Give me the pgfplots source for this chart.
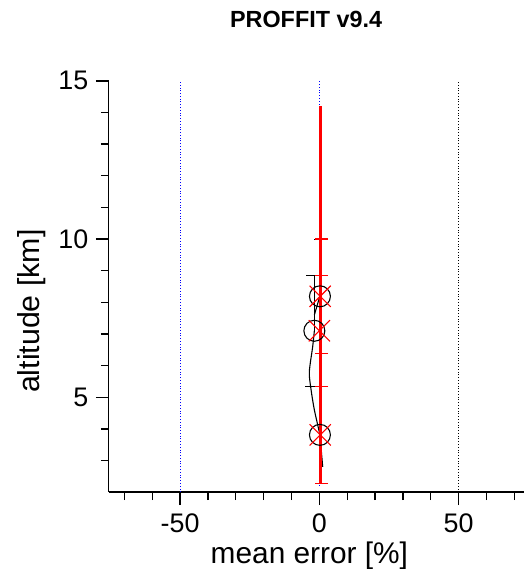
\documentclass[border=0pt]{standalone}
\usepackage{fontspec}
\setmainfont{Liberation Sans}
\usepackage{pgfplots}
\pgfplotsset{compat=1.18}
\begin{document}
\begin{tikzpicture}
\begin{axis}[
  scale only axis, width=416bp, height=412bp,
  xmin=-75.6, xmax=73.5, ymin=2, ymax=15,
  axis x line*=bottom, axis y line*=left,
  axis line style={line width=1.3pt, -},
  xtick={-50,0,50}, minor xtick={-70,-60,-40,-30,-20,-10,10,20,30,40,60,70},
  ytick={5,10,15}, minor ytick={3,4,6,7,8,9,11,12,13,14},
  tick align=outside, major tick length=13bp, minor tick length=8bp,
  every tick/.style={black, line width=1.3pt},
  every minor tick/.style={black, line width=1.3pt},
  /pgf/number format/assume math mode=true,
  ticklabel style={font=\fontsize{27}{27}\selectfont},
  xticklabel style={yshift=-5bp},
  yticklabel style={xshift=-4bp},
  title={\bfseries PROFFIT v9.4},
  title style={font=\fontsize{23.5}{23.5}\selectfont, at={(0.475,1)}, anchor=base, yshift=47bp},
  xlabel={mean error [\%]},
  xlabel style={font=\fontsize{30}{30}\selectfont, at={(0.483,0)}, anchor=base, yshift=-71bp},
  ylabel={altitude [km]},
  ylabel style={font=\fontsize{30.5}{30.5}\selectfont, at={(0,0.44)}, anchor=center, yshift=77bp},
  clip=false,
]
% reference lines
\addplot[blue, dotted, line width=0.8pt] coordinates {(-50,2) (-50,15)};
\addplot[blue, dotted, line width=0.8pt] coordinates {(0,2.2) (0,15)};
\addplot[black, dotted, line width=0.8pt] coordinates {(50,2) (50,15)};
% black profile
\addplot[black, line width=1.1pt, smooth] coordinates {
 (1.2,2.8) (0.6,3.4) (0.2,3.8) (-1.8,4.6) (-3.0,5.25) (-3.6,5.8) (-2.4,6.6) (-1.8,7.1)};
\addplot[black, line width=1.1pt] coordinates {(-1.8,7.1) (-1.8,8.84)};
\addplot[black, line width=1.1pt] coordinates {(-1.8,7.6) (0.2,8.2) (0.6,10) (0.6,14)};
\addplot[black, line width=1pt, only marks, mark=-, mark size=7bp] coordinates {(-2.3,8.84) (-2.5,5.35) (0.5,10)};
% red profile
\addplot[red, line width=2.4pt] coordinates {(0.4,2.3) (0.4,14.2)};
\addplot[red, line width=1.2pt, only marks, mark=-, mark size=6.7bp] coordinates {(0.7,10) (0.7,8.84) (0.7,6.38) (0.7,5.35) (0.7,2.27)};
% markers
\addplot[black, only marks, mark=o, mark size=10.5bp, line width=1.1pt] coordinates {(0.2,3.81) (-1.8,7.1) (0.2,8.19)};
\addplot[red, only marks, mark=x, mark size=15bp, line width=1.1pt] coordinates {(0.3,3.81) (0,7.1) (0.3,8.19)};
\end{axis}
\pgfresetboundingbox
\path[use as bounding box] (-109bp,-77bp) rectangle (416bp,493bp);
\end{tikzpicture}
\end{document}
